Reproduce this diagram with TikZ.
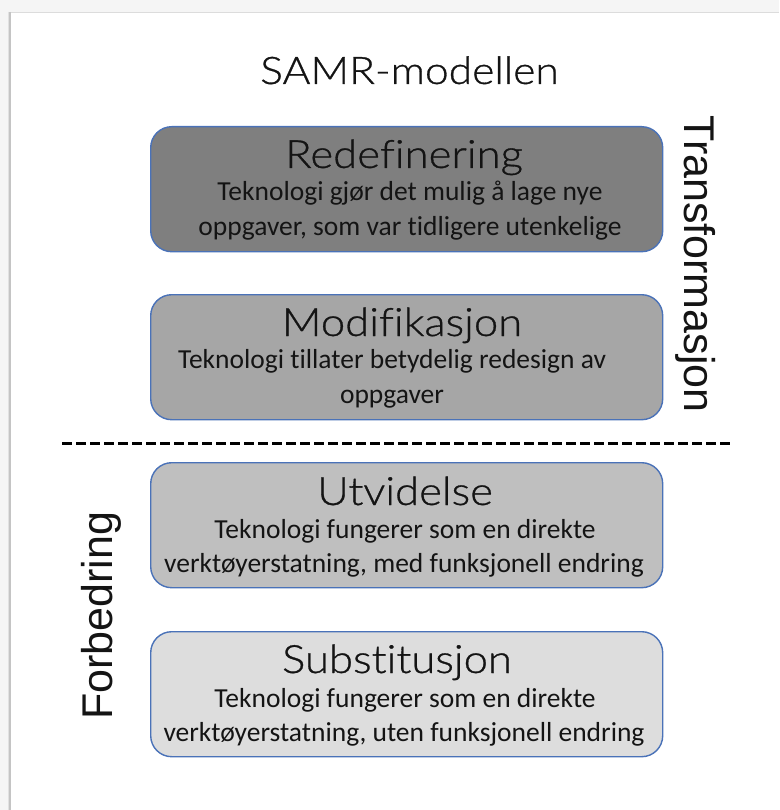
\documentclass[tikz,border=0pt]{standalone}
\usepackage{fontspec}
\setmainfont[Ligatures=NoCommon]{Carlito}
\newfontfamily\headfont[FakeStretch=1.12, FakeBold=0.8, Ligatures=NoCommon]{Lato Light}
\newfontfamily\sidefont{Liberation Sans}
\definecolor{pagebg}{HTML}{F5F5F5}
\definecolor{edgegray}{HTML}{C4C4C4}
\definecolor{boxline}{HTML}{4A72B8}
\definecolor{fillR}{HTML}{7F7F7F}
\definecolor{fillM}{HTML}{A6A6A6}
\definecolor{fillU}{HTML}{BFBFBF}
\definecolor{fillS}{HTML}{DDDDDD}
\definecolor{ink}{HTML}{141414}
\tikzset{
  levelbox/.style={draw=boxline, line width=1.4pt, rounded corners=21pt,
    minimum width=512pt, minimum height=125pt, anchor=north west},
  headtxt/.style={anchor=base, inner sep=0pt, text=ink,
    font=\headfont\fontsize{39}{39}\selectfont},
  bodytxt/.style={anchor=base, inner sep=0pt, text=ink,
    font=\fontsize{27.5}{27.5}\selectfont},
  sidetxt/.style={anchor=base, inner sep=0pt, text=ink,
    font=\sidefont\fontsize{43}{43}\selectfont},
  titletxt/.style={anchor=base, inner sep=0pt, text=ink,
    font=\headfont\fontsize{38}{38}\selectfont},
  divider/.style={line width=3pt, dash pattern=on 9.5pt off 4.5pt}
}
\begin{document}
\begin{tikzpicture}[x=1pt,y=-1pt]
  % page and card
  \fill[pagebg] (0,0) rectangle (779,810);
  \useasboundingbox (0,0) rectangle (779,810);
  \fill[white] (10,12) rectangle (779,810);
  \draw[edgegray!60, line width=1pt] (10,12.5) -- (779,12.5);
  \draw[edgegray, line width=2pt] (10,12) -- (10,810);
  \draw[edgegray!50, line width=1pt] (8.5,12) -- (8.5,810);

  % title
  \node[titletxt] (title) at (409.5,84) {SAMR-modellen};

  % the four levels
  \node[levelbox, fill=fillR] (redef) at (150,126) {};
  \node[levelbox, fill=fillM] (modif) at (150,294) {};
  \node[levelbox, fill=fillU] (utvid) at (150,462) {};
  \node[levelbox, fill=fillS] (subst) at (150,631) {};

  % Redefinering
  \node[headtxt] (redefH) at (404,168) {Redefinering};
  \node[bodytxt] (redefA) at (410,201) {Teknologi gjør det mulig å lage nye};
  \node[bodytxt] (redefB) at (410,235) {oppgaver, som var tidligere utenkelige};

  % Modifikasjon
  \node[headtxt] (modifH) at (402,336) {Modifikasjon};
  \node[bodytxt] (modifA) at (392,368) {Teknologi tillater betydelig redesign av};
  \node[bodytxt] (modifB) at (392,403) {oppgaver};

  % Utvidelse
  \node[headtxt] (utvidH) at (405,505) {Utvidelse};
  \node[bodytxt] (utvidA) at (405,538) {Teknologi fungerer som en direkte};
  \node[bodytxt] (utvidB) at (404,572) {verktøyerstatning, med funksjonell endring};

  % Substitusjon
  \node[headtxt] (substH) at (397,673) {Substitusjon};
  \node[bodytxt] (substA) at (405,707) {Teknologi fungerer som en direkte};
  \node[bodytxt] (substB) at (404,741) {verktøyerstatning, uten funksjonell endring};

  % dividing line between the two groups
  \coordinate (divL) at (62,443);
  \coordinate (divR) at (731,443);
  \draw[divider] (divL) -- (divR);

  % group labels
  \node[sidetxt, rotate=-90] (transf) at (684,264) {Transformasjon};
  \node[sidetxt, rotate=90] (forbed) at (112,616) {Forbedring};
\end{tikzpicture}
\end{document}
